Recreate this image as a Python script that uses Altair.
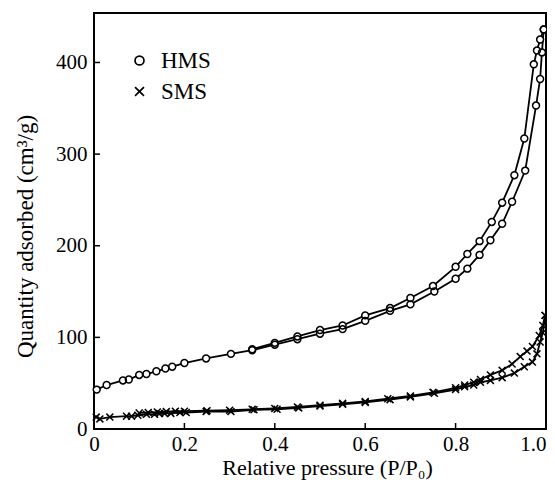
import altair as alt
import pandas as pd

# HMS adsorption branch
hms_ads_p = [0.006, 0.028, 0.064, 0.077, 0.10, 0.116, 0.138, 0.158, 0.173, 0.20, 0.248, 0.303,
             0.35, 0.40, 0.45, 0.50, 0.55, 0.60, 0.655, 0.70, 0.753, 0.80, 0.826, 0.853, 0.877,
             0.903, 0.925, 0.954, 0.978, 0.987, 0.991, 0.995]
hms_ads_q = [43, 48, 53, 54, 59, 60, 63, 66, 68, 72, 77, 82,
             86, 92, 98, 104, 109, 118, 129, 136, 150, 164, 175, 190, 206,
             224, 248, 282, 353, 382, 411, 436]
# HMS desorption branch
hms_des_p = [0.995, 0.987, 0.980, 0.973, 0.952, 0.930, 0.903, 0.880, 0.853, 0.826, 0.80,
             0.75, 0.70, 0.655, 0.60, 0.55, 0.50, 0.45, 0.40, 0.35]
hms_des_q = [436, 425, 413, 398, 317, 277, 247, 226, 205, 191, 177,
             156, 143, 132, 124, 113, 108, 101, 94, 87]
# SMS adsorption branch
sms_ads_p = [0.005, 0.013, 0.035, 0.072, 0.083, 0.097, 0.116, 0.134, 0.145, 0.156, 0.17, 0.19,
             0.204, 0.248, 0.303, 0.354, 0.405, 0.453, 0.50, 0.55, 0.60, 0.655, 0.70, 0.753,
             0.80, 0.82, 0.84, 0.855, 0.877, 0.903, 0.93, 0.952, 0.97, 0.98, 0.987, 0.993, 0.998]
sms_ads_q = [13, 11, 13, 14, 14, 15, 16, 16, 17, 17, 17, 18,
             18, 19, 19, 21, 21.5, 23, 25, 27, 29, 32, 35, 39,
             43, 46, 48, 51, 53, 56, 61, 68, 73, 82, 95, 105, 124]
# SMS desorption branch
sms_des_p = [0.998, 0.993, 0.985, 0.97, 0.958, 0.943, 0.925, 0.903, 0.877, 0.855, 0.84, 0.82,
             0.80, 0.75, 0.70, 0.65, 0.60, 0.55, 0.50, 0.45, 0.40, 0.35, 0.30, 0.25, 0.20,
             0.18, 0.16, 0.14, 0.12, 0.10]
sms_des_q = [124, 113, 102, 90, 85, 79, 71, 64, 59, 54, 51, 48,
             45, 40, 36, 33, 30, 28, 26, 24, 22.5, 21.5, 20.5, 20, 19.5,
             19.5, 19, 18.5, 18, 17.5]

samples = ["HMS", "SMS"]
x_ticks = [0.2, 0.4, 0.6, 0.8]
y_ticks = [100, 200, 300, 400]

rows = []
def add(sample, branch, xs, ys):
    for i, (a, b) in enumerate(zip(xs, ys)):
        rows.append(dict(p=a, q=b, sample=sample, branch=sample + "-" + branch, i=i))

add("HMS", "ads", hms_ads_p, hms_ads_q)
add("HMS", "des", hms_des_p, hms_des_q)
add("SMS", "ads", sms_ads_p, sms_ads_q)
add("SMS", "des", sms_des_p, sms_des_q)
df = pd.DataFrame(rows)

FONT = "Liberation Serif"
W, H = 452, 416
xscale = alt.Scale(domain=[0, 1.0], nice=False, zero=False)
yscale = alt.Scale(domain=[0, 454], nice=False)

x_axis = alt.Axis(
    values=[0, 0.2, 0.4, 0.6, 0.8, 1.0],
    labelExpr="datum.value == 0 ? '0' : format(datum.value, '.1f')",
    labelAlign=alt.ExprRef("datum.value >= 1 ? 'right' : 'center'"),
    ticks=False, domain=False, grid=False,
    labelFont=FONT, labelFontSize=21, labelColor="black", labelPadding=4,
    labelFlush=False, labelOverlap=False,
    title="Relative pressure (P/P₀)", titleFont=FONT, titleFontSize=22,
    titleFontWeight="normal", titleColor="black",
    titleX=233, titleY=45, titleBaseline="alphabetic", titleAlign="center",
)
y_axis = alt.Axis(
    values=[0, 100, 200, 300, 400],
    ticks=False, domain=False, grid=False,
    labelFont=FONT, labelFontSize=21, labelColor="black", labelPadding=7,
    labelFlush=False, labelOverlap=False,
    title="Quantity adsorbed (cm³/g)", titleFont=FONT, titleFontSize=23,
    titleFontWeight="normal", titleColor="black",
    titleX=-62, titleY=223, titleAngle=-90, titleBaseline="alphabetic", titleAlign="center",
)

lines = alt.Chart(df).mark_line(color="black", strokeWidth=1.8).encode(
    x=alt.X("p:Q", scale=xscale, axis=x_axis),
    y=alt.Y("q:Q", scale=yscale, axis=y_axis),
    detail="branch:N",
    order="i:Q",
)

# white backing so the line does not show through hollow circles
backs = alt.Chart(df).transform_filter(alt.datum.sample == "HMS").mark_circle(
    color="white", size=40, opacity=1).encode(
    x=alt.X("p:Q", scale=xscale, axis=x_axis),
    y=alt.Y("q:Q", scale=yscale, axis=y_axis),
)

points = alt.Chart(df).mark_point(filled=False, color="black",
                                  strokeWidth=1.5, size=48, opacity=1).encode(
    x=alt.X("p:Q", scale=xscale, axis=x_axis),
    y=alt.Y("q:Q", scale=yscale, axis=y_axis),
    shape=alt.Shape(
        "sample:N",
        scale=alt.Scale(domain=samples, range=["circle", "M-1,-1L1,1M1,-1L-1,1"]),
        legend=alt.Legend(
            orient="none", legendX=34, legendY=36, title=None,
            labelFont=FONT, labelFontSize=23, labelColor="black", labelOffset=10,
            symbolSize=80, symbolStrokeColor="black", symbolStrokeWidth=1.7,
            symbolFillColor="transparent", symbolOpacity=1, rowPadding=7, padding=0,
        ),
    ),
)

xt = alt.Chart(pd.DataFrame({"p": x_ticks})).mark_rule(color="black", strokeWidth=1.5).encode(
    x=alt.X("p:Q", scale=xscale, axis=x_axis),
    y=alt.value(H), y2=alt.value(H - 6),
)
yt = alt.Chart(pd.DataFrame({"q": y_ticks})).mark_rule(color="black", strokeWidth=1.5).encode(
    y=alt.Y("q:Q", scale=yscale, axis=y_axis),
    x=alt.value(0), x2=alt.value(6),
)

chart = alt.layer(lines, backs, points, xt, yt).properties(
    width=W, height=H,
    autosize=alt.AutoSizeParams(type="none"),
    padding={"left": 86, "top": 5, "right": 1, "bottom": 51},
).configure_view(stroke="black", strokeWidth=2)

chart.save("out.html", embed_options={"renderer": "svg", "actions": False})
